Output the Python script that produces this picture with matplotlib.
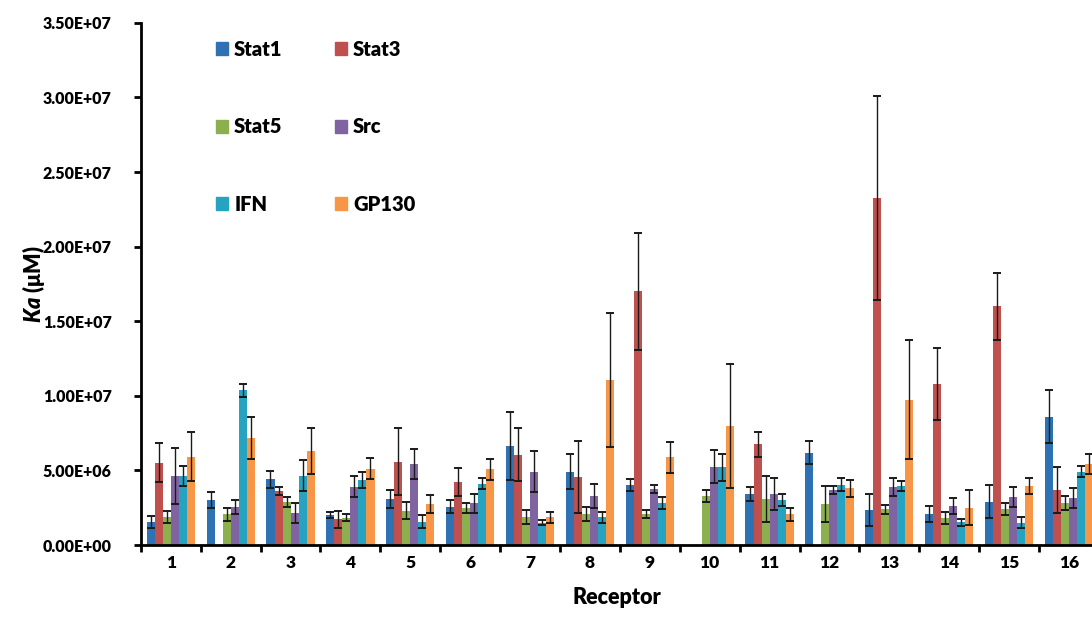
import numpy as np
import matplotlib
matplotlib.use('Agg')
import matplotlib.pyplot as plt
from matplotlib.patches import Patch
from matplotlib.ticker import FuncFormatter, FixedLocator

plt.rcParams['font.family'] = ['Lato', 'DejaVu Sans']
plt.rcParams['font.weight'] = 'heavy'
plt.rcParams['axes.labelweight'] = 'heavy'
plt.rcParams['mathtext.fontset'] = 'custom'
plt.rcParams['mathtext.it'] = 'Lato:italic:heavy'
plt.rcParams['mathtext.rm'] = 'Lato:heavy'

# receptor groups
receptors = [str(i) for i in range(1, 17)]
series = ['Stat1', 'Stat3', 'Stat5', 'Src', 'IFN', 'GP130']
colors = ['#2E72B4', '#C0504D', '#8DB04F', '#8064A2', '#27A3C2', '#F79646']

# Ka values (x1e6), one list per series
stat1 = [1.55, 3.02, 4.41, 1.99, 3.09, 2.57, 6.64, 4.92, 4.03, 0.0, 3.42, 6.20, 2.35, 2.08, 2.91, 8.61]
stat3 = [5.52, 0.0, 3.62, 1.72, 5.59, 4.23, 6.06, 4.58, 17.0, 0.0, 6.76, 0.0, 23.27, 10.8, 16.0, 3.69]
stat5 = [1.90, 2.06, 2.91, 1.83, 2.30, 2.46, 1.90, 2.08, 2.08, 3.29, 3.09, 2.75, 2.39, 1.79, 2.39, 2.84]
src = [4.63, 2.55, 2.13, 3.91, 5.44, 2.80, 4.92, 3.29, 3.76, 5.26, 3.42, 3.69, 3.87, 2.64, 3.20, 3.17]
ifn = [4.63, 10.36, 4.65, 4.36, 1.56, 4.11, 1.50, 1.86, 2.80, 5.21, 3.02, 4.03, 3.96, 1.52, 1.50, 4.92]
gp130 = [5.93, 7.16, 6.31, 5.12, 2.75, 5.08, 1.86, 11.07, 5.88, 7.99, 2.06, 3.80, 9.75, 2.50, 3.96, 5.44]

# error bars (x1e6)
stat1_err = [0.40, 0.52, 0.58, 0.20, 0.60, 0.43, 2.30, 1.19, 0.38, 0.0, 0.45, 0.78, 1.07, 0.56, 1.12, 1.79]
stat3_err = [1.30, 0.0, 0.29, 0.56, 2.24, 0.94, 1.77, 2.42, 3.90, 0.0, 0.85, 0.0, 6.85, 2.40, 2.23, 1.52]
stat5_err = [0.40, 0.42, 0.33, 0.23, 0.58, 0.34, 0.47, 0.47, 0.29, 0.40, 1.56, 1.21, 0.29, 0.40, 0.40, 0.47]
src_err = [1.90, 0.47, 0.67, 0.72, 1.00, 0.62, 1.37, 0.82, 0.29, 1.12, 1.07, 0.27, 0.60, 0.53, 0.67, 0.68]
ifn_err = [0.70, 0.42, 1.05, 0.52, 0.45, 0.36, 0.18, 0.35, 0.40, 0.90, 0.40, 0.44, 0.31, 0.22, 0.36, 0.38]
gp130_err = [1.67, 1.39, 1.52, 0.72, 0.58, 0.69, 0.35, 4.48, 1.03, 4.16, 0.42, 0.56, 4.00, 1.19, 0.51, 0.67]

values = [stat1, stat3, stat5, src, ifn, gp130]
errors = [stat1_err, stat3_err, stat5_err, src_err, ifn_err, gp130_err]

fig = plt.figure(figsize=(10.92, 6.19), dpi=100)
ax = fig.add_axes([0.129, 0.1195, 0.871, 0.8435])

x = np.arange(1, len(receptors) + 1)
width = 0.134
for i, (name, vals, errs) in enumerate(zip(series, values, errors)):
    pos = x + (i - 2.5) * width
    v = np.array(vals) * 1e6
    e = np.array(errs) * 1e6
    ax.bar(pos, v, width, color=colors[i], label=name, zorder=2)
    has = v > 0
    ax.errorbar(pos[has], v[has], yerr=e[has], fmt='none', ecolor='#1a1a1a',
                elinewidth=1.0, capsize=3, capthick=1.4, zorder=3)

ax.set_xlim(0.5, 16.385)
ax.set_ylim(0, 3.5e7)
ax.set_yticks(np.arange(0, 3.51e7, 5e6))
ax.yaxis.set_major_formatter(FuncFormatter(lambda v, p: '{:.2E}'.format(v)))

# ticks at the group boundaries, labels at the centres
ax.xaxis.set_major_locator(FixedLocator(np.arange(0.5, 17, 1)))
ax.xaxis.set_minor_locator(FixedLocator(x))
ax.set_xticklabels([], minor=False)
ax.set_xticklabels(receptors, minor=True)
ax.tick_params(axis='x', which='major', direction='out', length=5, width=2)
ax.tick_params(axis='x', which='minor', length=0, pad=7, labelsize=12.5)
ax.tick_params(axis='y', direction='out', length=5, width=2, labelsize=11.5, pad=16)

for s in ['top', 'right']:
    ax.spines[s].set_visible(False)
for s in ['left', 'bottom']:
    ax.spines[s].set_linewidth(2)

ax.set_xlabel('Receptor', fontsize=15.5, fontweight='heavy', labelpad=12)
ax.set_ylabel(r'$Ka$ (μM)', fontsize=15.5, fontweight='heavy')
ax.yaxis.set_label_coords(-0.099, 0.5)

# legend laid out as in the picture: three rows, two columns
handles = [Patch(color=c) for c in colors]
order = [0, 2, 4, 1, 3, 5]
ax.legend([handles[k] for k in order], [series[k] for k in order], ncol=2,
          loc='upper left', bbox_to_anchor=(0.06, 1.002), frameon=False,
          fontsize=14.5, handlelength=0.6, handleheight=0.6, handletextpad=0.3,
          labelspacing=2.9, columnspacing=2.6)

fig.savefig('out.png', dpi=100)
